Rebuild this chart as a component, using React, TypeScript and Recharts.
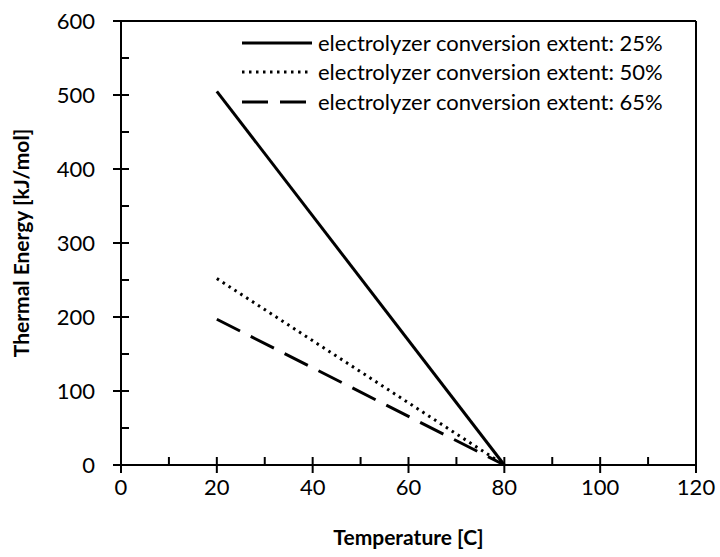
import React from 'react';
import {
    LineChart,
    Line,
    XAxis,
    YAxis,
    ReferenceLine
} from 'recharts';

// temperature [C]
const temperatures = [20, 80];
// thermal energy [kJ/mol] per electrolyzer conversion extent
const extent25 = [505, 0];
const extent50 = [252, 0];
const extent65 = [197, 0];

const xTicks = [0, 10, 20, 30, 40, 50, 60, 70, 80, 90, 100, 110, 120];
const yTicks = [0, 50, 100, 150, 200, 250, 300, 350, 400, 450, 500, 550, 600];

const SERIES = [
    { key: 'e25', name: 'electrolyzer conversion extent: 25%', dash: undefined, values: extent25 },
    { key: 'e50', name: 'electrolyzer conversion extent: 50%', dash: '2.5 4.5', values: extent50 },
    { key: 'e65', name: 'electrolyzer conversion extent: 65%', dash: '26 12', values: extent65 }
];

const data = temperatures.map((t, i) => {
    const row: any = { t };
    SERIES.forEach(s => { row[s.key] = s.values[i]; });
    return row;
});

const FONT = 'Lato, "Open Sans", sans-serif';

const XTick = ({ x, y, payload }: any) => {
    const major = payload.value % 20 === 0;
    return (
        <g>
            <line x1={x} x2={x} y1={y - 8} y2={major ? y + 8 : y} stroke="#000" strokeWidth={2} />
            {major && (
                <text x={x} y={y + 30} textAnchor="middle" fontSize={22} fontFamily={FONT} fill="#000">
                    {payload.value}
                </text>
            )}
        </g>
    );
};

const YTick = ({ x, y, payload }: any) => {
    const major = payload.value % 100 === 0;
    return (
        <g>
            <line x1={major ? x - 8 : x} x2={x + 8} y1={y} y2={y} stroke="#000" strokeWidth={2} />
            {major && (
                <text x={x - 26} y={y + 8} textAnchor="end" fontSize={22} fontFamily={FONT} fill="#000">
                    {payload.value}
                </text>
            )}
        </g>
    );
};

// legend drawn as an overlay so it doesn't steal plot height
const LegendBox = () => (
    <div style={{ position: 'absolute', left: 242, top: 28, fontFamily: FONT, fontSize: 22, color: '#000', lineHeight: 1 }}>
        {SERIES.map(s => (
            <div key={s.key} style={{ display: 'flex', alignItems: 'center', height: 29.5, whiteSpace: 'nowrap' }}>
                <svg width={70} height={10} style={{ marginRight: 6 }}>
                    <line x1={0} x2={70} y1={5} y2={5} stroke="#000" strokeWidth={3} strokeDasharray={s.dash} />
                </svg>
                <span>{s.name}</span>
            </div>
        ))}
    </div>
);

export default function App() {
    return (
        <div style={{ position: 'absolute', left: 0, top: 0, width: 720, height: 557, background: '#fff' }}>
            <LineChart width={720} height={557} data={data} margin={{ top: 21, right: 24, bottom: 0, left: 0 }}>
                <XAxis
                    dataKey="t"
                    type="number"
                    domain={[0, 120]}
                    ticks={xTicks}
                    interval={0}
                    tickSize={0}
                    tickMargin={0}
                    tickLine={false}
                    axisLine={{ stroke: '#000', strokeWidth: 2 }}
                    tick={<XTick />}
                    height={92}
                    label={({ viewBox }: any) => (
                        <text x={viewBox.x + viewBox.width / 2} y={viewBox.y + 80} textAnchor="middle"
                            fontSize={21} fontWeight="bold" fontFamily={FONT} fill="#000">
                            Temperature [C]
                        </text>
                    )}
                />
                <YAxis
                    type="number"
                    domain={[0, 600]}
                    ticks={yTicks}
                    interval={0}
                    tickSize={0}
                    tickMargin={0}
                    tickLine={false}
                    axisLine={{ stroke: '#000', strokeWidth: 2 }}
                    tick={<YTick />}
                    width={121}
                    label={({ viewBox }: any) => {
                        const cx = 20;
                        const cy = viewBox.y + viewBox.height / 2;
                        return (
                            <text x={cx} y={cy} transform={`rotate(-90, ${cx}, ${cy})`} textAnchor="middle"
                                dominantBaseline="central" fontSize={21} fontWeight="bold" fontFamily={FONT} fill="#000">
                                Thermal Energy [kJ/mol]
                            </text>
                        );
                    }}
                />
                <ReferenceLine x={120} stroke="#000" strokeWidth={2} />
                <ReferenceLine y={600} stroke="#000" strokeWidth={2} />
                {SERIES.map(s => (
                    <Line
                        key={s.key}
                        dataKey={s.key}
                        name={s.name}
                        stroke="#000"
                        strokeWidth={3}
                        strokeDasharray={s.dash}
                        dot={false}
                        isAnimationActive={false}
                    />
                ))}
            </LineChart>
            <LegendBox />
        </div>
    );
}
